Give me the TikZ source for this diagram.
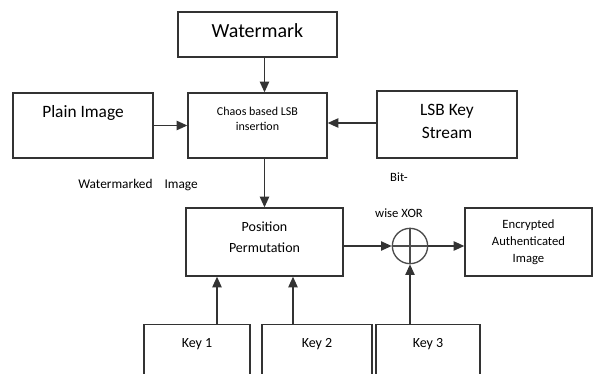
\documentclass[tikz,border=0pt]{standalone}
\usepackage{fontspec}
\setmainfont{Carlito}
\usetikzlibrary{shapes,arrows.meta,positioning,calc}

\begin{document}
\begin{tikzpicture}[x=0.75pt, y=-0.75pt, >={Triangle[length=8pt,width=7pt]},
    block/.style={rectangle, draw=black!80, line width=1pt, align=center, inner sep=3pt},
    keybox/.style={block, anchor=north, text height=14.3pt, text depth=60pt, font=\fontsize{10.5}{12}\selectfont},
    note/.style={inner sep=0pt, font=\fontsize{9.5}{11}\selectfont}]
    \useasboundingbox (0,0) rectangle (593,374);

    \node[block, minimum width=119.25pt, minimum height=33.75pt, text depth=5.25pt, font=\fontsize{15}{18}\selectfont] (watermark) at (257.5,34.5) {Watermark};
    \node[block, minimum width=104.25pt, minimum height=48.75pt, text depth=10.5pt, font=\fontsize{9}{11.25}\selectfont] (chaos) at (257.5,125.5) {Chaos based LSB\\insertion};
    \node[block, minimum width=105pt, minimum height=48.75pt, text depth=21.4pt, font=\fontsize{13}{17}\selectfont] (plain) at (83,125.5) {Plain Image};
    \node[block, minimum width=105pt, minimum height=50.25pt, text depth=4.5pt, font=\fontsize{13}{17}\selectfont] (lsbkey) at (447,124.5) {LSB Key\\Stream};
    \node[block, minimum width=117.75pt, minimum height=51pt, text depth=7.5pt, font=\fontsize{10.5}{15.75}\selectfont] (position) at (264.5,242) {Position\\Permutation};
    \node[circle, draw=black!70, line width=1pt, minimum size=26.5pt, inner sep=0pt] (xor) at (410,246) {};
    \node[block, minimum width=95.25pt, minimum height=51pt, font=\fontsize{9.5}{12.75}\selectfont] (encrypted) at (528.5,242) {Encrypted\\Authenticated\\Image};

    \node[keybox, minimum width=79.5pt] (key1) at (197,324) {Key 1};
    \node[keybox, minimum width=82.5pt] (key2) at (317,324) {Key 2};
    \node[keybox, minimum width=78pt] (key3) at (428,324) {Key 3};

    \node[note, font=\fontsize{10}{12}\selectfont] (marked) at (138,185) {Watermarked\hspace{9pt}Image};
    \node[note] (bit) at (399,177.5) {Bit-};
    \node[note] (wise) at (399,213) {wise XOR};

    \draw[black!70, line width=1pt] (xor.north) -- (xor.south);
    \draw[black!70, line width=1pt] (xor.west) -- (xor.east);

    \draw[->, black!80, line width=1pt] (watermark.south -| position) -- (chaos.north -| position);
    \draw[->, black!80, line width=1pt] (plain) -- (chaos);
    \draw[->, black!80, line width=1pt] (lsbkey.west |- 0,123) -- (chaos.east |- 0,123);
    \draw[->, black!80, line width=1pt] (chaos.south -| position) -- (position);
    \draw[->, black!80, line width=1pt] ([xshift=15pt]key1.north) -- ([xshift=15pt]key1.north |- position.south);
    \draw[->, black!80, line width=1pt] ([xshift=-18pt]key2.north) -- ([xshift=-18pt]key2.north |- position.south);
    \draw[->, black!80, line width=1pt] (key3.north -| xor) -- (xor.south);
    \draw[->, black!80, line width=1pt] (position.east |- xor) -- (xor.west);
    \draw[->, black!80, line width=1pt] (xor.east) -- (xor -| encrypted.west);
\end{tikzpicture}
\end{document}
